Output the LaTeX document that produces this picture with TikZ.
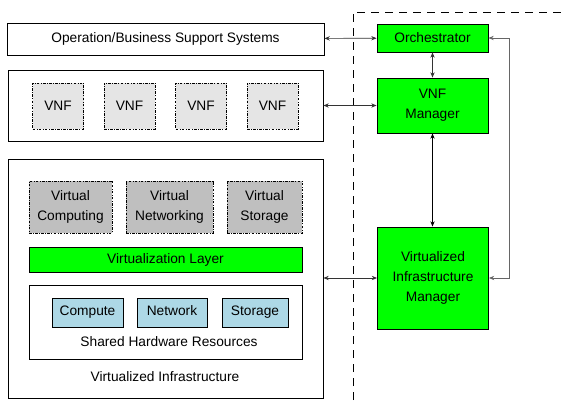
\documentclass[tikz,border=0pt]{standalone}
\usepackage{fontspec}
\setmainfont{Liberation Sans}
\usepackage{tikz}
\usetikzlibrary{positioning,arrows.meta}

\definecolor{mgreen}{RGB}{0,255,0}
\definecolor{hwblue}{RGB}{173,216,230}

\begin{document}
\begin{tikzpicture}[
    x=0.75pt, y=-0.75pt,
    >={Stealth[length=4pt,width=3.2pt]},
    font=\fontsize{10.3pt}{15pt}\selectfont,
    blk/.style={draw=black, line width=0.6pt, fill=white, inner sep=0pt, align=center},
    vnf/.style={blk, fill=black!10, dash pattern=on 2pt off 1pt on 0.6pt off 1pt},
    virt/.style={vnf, fill=black!25},
    hw/.style={blk, fill=hwblue, minimum height=21.75pt, text height=7.5pt, text depth=3.5pt},
    mgmt/.style={blk, fill=mgreen, minimum width=83.25pt},
    link/.style={draw=black!80, line width=0.5pt, <->},
  ]
    \useasboundingbox (0,0) rectangle (561,403);

    % left column
    \node[blk, minimum width=237.75pt, minimum height=24pt] (oss) at (165.5,39) {Operation/Business Support Systems};
    \node[blk, minimum width=236.25pt, minimum height=53.25pt] (vnfs) at (165.5,105.5) {};
    \foreach \i in {1,...,4}
      \node[vnf, minimum width=38.25pt, minimum height=34.5pt] (vnf\i) at ({58+71.5*(\i-1)},106) {VNF};

    \node[blk, minimum width=236.25pt, minimum height=179.25pt] (vi) at (165.5,278.5) {};
    \node[virt, minimum width=62.25pt, minimum height=39pt] (vcomp) at (70.5,207) {Virtual\\Computing};
    \node[virt, minimum width=65.25pt, minimum height=39pt] (vnet) at (169.5,207) {Virtual\\Networking};
    \node[virt, minimum width=56.25pt, minimum height=39pt] (vstor) at (264.5,207) {Virtual\\Storage};
    \node[blk, fill=mgreen, minimum width=204.75pt, minimum height=18.75pt] (vlayer) at (165.5,259.5) {Virtualization Layer};
    \node[blk, minimum width=204.75pt, minimum height=55.5pt] (shw) at (165.5,322) {};
    \node[hw, minimum width=53.25pt] (comp) at (87.5,312.5) {Compute};
    \node[hw, minimum width=52.5pt] (net) at (172,312.5) {Network};
    \node[hw, minimum width=49.5pt] (stor) at (255,312.5) {Storage};
    \node (shwlab) at (169,342) {Shared Hardware Resources};
    \node (vilab) at (165,377) {Virtualized Infrastructure};

    % management and orchestration
    \draw[line width=0.6pt, dash pattern=on 6pt off 4.5pt] (353,400) -- (353,12) -- (561,12);
    \node[mgmt, minimum height=21pt] (orch) at (432.5,38) {Orchestrator};
    \node[mgmt, minimum height=41.25pt] (vnfm) at (432.5,105.5) {VNF\\Manager};
    \node[mgmt, minimum height=76.5pt] (vim) at (433,278) {Virtualized\\Infrastructure\\Manager};

    \draw[link] (oss) -- (orch);
    \draw[link] (vnfs.east |- vnfm) -- (vnfm);
    \draw[link] (vi.east |- vim) -- (vim);
    \draw[link] (orch) -- (vnfm);
    \draw[link, draw=black] (vnfm) -- (vnfm |- vim.north);
    \draw[link, draw=black!60] (orch.east) -- ++(21,0) |- (vim.east);
  \end{tikzpicture}
\end{document}
